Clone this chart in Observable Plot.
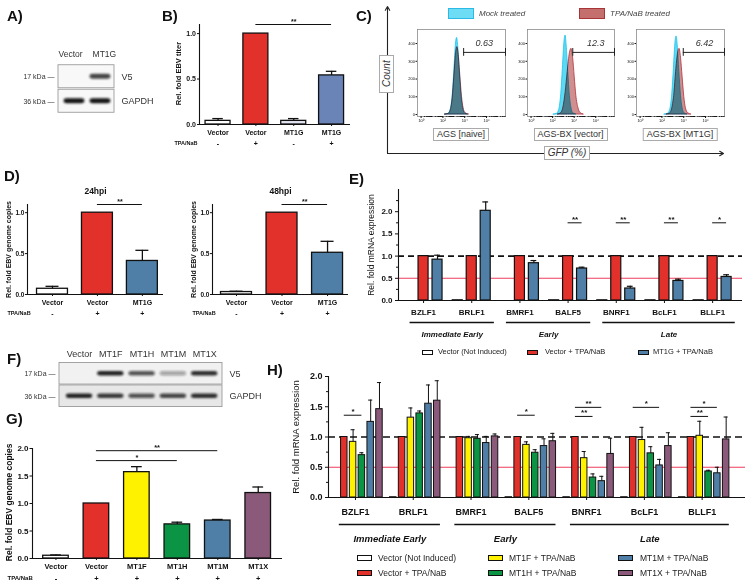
<!DOCTYPE html>
<html>
<head>
<meta charset="utf-8">
<script src="https://cdn.jsdelivr.net/npm/d3@7"></script>
<script src="https://cdn.jsdelivr.net/npm/@observablehq/plot@0.6"></script>
<style>
  html, body { margin: 0; padding: 0; background: #fff; }
  #fig { position: relative; width: 745px; height: 588px; overflow: hidden; font-family: "Liberation Sans", Arial, sans-serif; color: #111; }
  #fig svg { position: absolute; left: 0; top: 0; }
  .abs { position: absolute; white-space: nowrap; }
</style>
</head>
<body>
<div id="fig"></div>
<script>
// ---------------- DATA ----------------
// A) western blot
const blotA_lanes = ["Vector", "MT1G"];
const blotA_rows = ["V5", "GAPDH"];
const blotA_kDa = ["17 kDa", "36 kDa"];
const blotA_V5 = [0, 0.8];
const blotA_GAPDH = [1, 1];

// B) EBV titer
const b_labels = ["Vector", "Vector", "MT1G", "MT1G"];
const b_tpa = ["-", "+", "-", "+"];
const b_values = [0.04, 1.0, 0.04, 0.54];
const b_err = [0.065, null, 0.065, 0.585];
const b_colors = ["#ffffff", "#e2302b", "#e0e2ef", "#6a84b7"];
const b_sigFrom = [1], b_sigTo = [3], b_sigY = [1.1], b_sigText = ["**"];

// C) flow cytometry histograms: [log10 GFP, count]
const c_samples = ["AGS [naive]", "AGS-BX [vector]", "AGS-BX [MT1G]"];
const c_gfp = ["0.63", "12.3", "6.42"];
const c_gateFrom = [3.9, 3.87, 3.96];
const c_gateLabelAt = [5.8, 6.0, 5.9];
const c_legend = ["Mock treated", "TPA/NaB treated"];
const c_mock = [
  [[2.2,0],[2.5,4],[2.7,25],[2.9,110],[3.05,250],[3.2,400],[3.3,432],[3.4,385],[3.55,240],[3.7,105],[3.85,35],[4.0,8],[4.3,0]],
  [[2.1,0],[2.4,4],[2.6,25],[2.8,115],[2.95,260],[3.1,410],[3.2,445],[3.3,390],[3.45,240],[3.6,105],[3.75,35],[3.9,8],[4.2,0]],
  [[2.25,0],[2.55,4],[2.75,25],[2.95,115],[3.1,260],[3.25,410],[3.35,440],[3.45,390],[3.6,240],[3.75,105],[3.9,35],[4.05,8],[4.35,0]]
];
const c_tpa = [
  [[2.2,0],[2.5,3],[2.7,20],[2.9,95],[3.05,215],[3.2,340],[3.32,380],[3.45,335],[3.6,215],[3.75,100],[3.9,35],[4.05,10],[4.4,0]],
  [[2.5,0],[2.8,8],[3.0,40],[3.2,120],[3.4,240],[3.6,345],[3.75,370],[3.9,320],[4.05,210],[4.2,105],[4.4,35],[4.6,8],[4.9,0]],
  [[2.45,0],[2.75,6],[2.95,35],[3.15,120],[3.3,240],[3.48,345],[3.62,370],[3.75,320],[3.9,210],[4.05,100],[4.2,35],[4.4,8],[4.7,0]]
];

// D) EBV genome copies
const d_labels = ["Vector", "Vector", "MT1G"];
const d_tpa = ["-", "+", "+"];
const d_colors = ["#ffffff", "#e2302b", "#4f7fa6"];
const d24_values = [0.07, 1.0, 0.41];
const d24_err = [0.1, null, 0.54];
const d48_values = [0.03, 1.0, 0.51];
const d48_err = [0.04, null, 0.65];

// E) & H) genes
const genes = ["BZLF1", "BRLF1", "BMRF1", "BALF5", "BNRF1", "BcLF1", "BLLF1"];
const geneGroups = ["Immediate Early", "Early", "Late"];
const geneGroupFirst = [0, 2, 4];
const geneGroupLast = [1, 3, 6];

const e_names = ["Vector (Not Induced)", "Vector + TPA/NaB", "MT1G + TPA/NaB"];
const e_colors = ["#ffffff", "#e2302b", "#4f7fa6"];
const e_notInduced = [null, 0.005, null, 0.005, 0.005, 0.005, 0.005];
const e_vector = [1, 1, 1, 1, 1, 1, 1];
const e_mt1g = [0.92, 2.02, 0.84, 0.72, 0.27, 0.44, 0.53];
const e_mt1gErr = [1.02, 2.22, 0.90, 0.75, 0.32, 0.48, 0.58];
const e_sigGene = [3, 4, 5, 6];
const e_sigTarget = [2, 2, 2, 2];
const e_sigY = [1.75, 1.75, 1.75, 1.75];
const e_sigText = ["**", "**", "**", "*"];

// F) western blot
const blotF_lanes = ["Vector", "MT1F", "MT1H", "MT1M", "MT1X"];
const blotF_rows = ["V5", "GAPDH"];
const blotF_kDa = ["17 kDa", "36 kDa"];
const blotF_V5 = [0, 0.95, 0.7, 0.35, 0.9];
const blotF_GAPDH = [0.95, 0.85, 0.7, 0.8, 0.9];

// G) EBV genome copies
const g_labels = ["Vector", "Vector", "MT1F", "MT1H", "MT1M", "MT1X"];
const g_tpa = ["-", "+", "+", "+", "+", "+"];
const g_values = [0.05, 1.0, 1.57, 0.62, 0.69, 1.19];
const g_err = [0.065, null, 1.67, 0.66, 0.71, 1.30];
const g_colors = ["#ffffff", "#e2302b", "#fff200", "#0a9444", "#4f7fa6", "#8b5a7a"];
const g_sigFrom = [1, 1], g_sigTo = [4, 3], g_sigY = [1.96, 1.78], g_sigText = ["**", "*"];

// H) mRNA expression
const h_names = ["Vector (Not Induced)", "Vector + TPA/NaB", "MT1F + TPA/NaB", "MT1H + TPA/NaB", "MT1M + TPA/NaB", "MT1X + TPA/NaB"];
const h_colors = ["#ffffff", "#e2302b", "#fff200", "#0a9444", "#4f7fa6", "#8b5a7a"];
const h_notInduced = [null, 0.005, null, 0.005, 0.005, 0.005, 0.005];
const h_vector = [1, 1, 1, 1, 1, 1, 1];
const h_mt1f = [0.92, 1.32, 0.98, 0.87, 0.65, 0.95, 1.02];
const h_mt1fErr = [1.12, 1.48, 1.01, 0.92, 0.76, 1.16, 1.26];
const h_mt1h = [0.70, 1.39, 0.97, 0.74, 0.33, 0.73, 0.43];
const h_mt1hErr = [0.74, 1.43, 1.04, 0.79, 0.39, 0.84, 0.45];
const h_mt1m = [1.25, 1.55, 0.90, 0.85, 0.27, 0.53, 0.40];
const h_mt1mErr = [1.61, 1.86, 1.01, 0.97, 0.35, 0.63, 0.50];
const h_mt1x = [1.46, 1.60, 1.01, 0.93, 0.72, 0.85, 0.96];
const h_mt1xErr = [1.90, 1.93, 1.05, 1.06, 0.98, 1.07, 1.33];
const h_sigGene = [0, 3, 4, 4, 5, 6, 6];
const h_sigTarget = [3, 3, 4, 3, 4, 4, 3];
const h_sigY = [1.36, 1.36, 1.49, 1.34, 1.49, 1.49, 1.34];
const h_sigText = ["*", "*", "**", "**", "*", "*", "**"];

const panelLetters = ["A)", "B)", "C)", "D)", "E)", "F)", "G)", "H)"];

// ---------------- HELPERS ----------------
const FONT = '"Liberation Sans", Arial, sans-serif';
const W = 745, H = 588;
const fig = document.getElementById("fig");
const box = c => ({width: W, height: H, marginLeft: c.left, marginRight: W - c.right, marginTop: c.top, marginBottom: H - c.bottom});
const css = extra => `font-family:${FONT};background:transparent;overflow:visible;${extra || ""}`;
const add = svg => fig.appendChild(svg);
function div(html, style) {
  const d = document.createElement("div");
  d.className = "abs";
  d.innerHTML = html;
  d.style.cssText += style;
  fig.appendChild(d);
  return d;
}
const sigRows = (from, to, y, text) => from.map((f, i) => ({from: f, to: to[i], y: y[i], text: text[i]}));

function barChart(c) {
  const rows = c.values.map((v, i) => ({i, v, e: c.err[i], fill: c.colors[i], label: c.labels[i], tpa: c.tpa[i]}));
  const withErr = rows.filter(d => d.e != null);
  const xd = c.xDomain;
  const marks = [
    Plot.rect(rows, {x1: d => d.i - c.half, x2: d => d.i + c.half, y1: 0, y2: "v", fill: "fill", stroke: "#111", strokeWidth: 1.3}),
    Plot.ruleX(withErr, {x: "i", y1: "v", y2: "e", stroke: "#111", strokeWidth: 1.3}),
    Plot.ruleY(withErr, {y: "e", x1: d => d.i - c.half * 0.42, x2: d => d.i + c.half * 0.42, stroke: "#111", strokeWidth: 1.3}),
    Plot.ruleX([xd[0]], {y1: 0, y2: c.yMax, stroke: "#111", strokeWidth: 1.1}),
    Plot.ruleY([0], {x1: xd[0], x2: xd[1], stroke: "#111", strokeWidth: 1.1}),
    Plot.axisY({ticks: c.ticks, tickFormat: d3.format(".1f"), tickSize: c.tickSize, tickPadding: c.tickPad, label: null, fontSize: c.tickFs}),
    Plot.axisX({ticks: d3.range(rows.length), tickFormat: () => "", tickSize: 2, label: null}),
    Plot.text(rows, {x: "i", y: 0, dy: c.labelDy, text: "label", fontSize: c.fs}),
    Plot.text(rows, {x: "i", y: 0, dy: c.tpaDy, text: "tpa", fontSize: c.fs}),
    Plot.text(["TPA/NaB"], {x: xd[0], y: 0, dx: c.tpaDx, dy: c.tpaDy, text: d => d, textAnchor: c.tpaAnchor, fontSize: c.tpaFs}),
    Plot.text([c.ylabel], {x: xd[0], y: c.yLabelAt, dx: c.yLabelDx, rotate: -90, text: d => d, fontSize: c.yFs}),
    Plot.ruleY(c.sigs, {y: "y", x1: "from", x2: "to", stroke: "#111", strokeWidth: 1}),
    Plot.text(c.sigs, {x: d => (d.from + d.to) / 2, y: "y", dy: -3, text: "text", fontSize: c.fs})
  ];
  if (c.title) marks.push(Plot.text([c.title], {x: (xd[0] + xd[1]) / 2, y: c.yMax, dy: c.titleDy, text: d => d, fontSize: c.titleFs}));
  add(Plot.plot({...box(c), x: {domain: xd}, y: {domain: [0, c.yMax]}, color: {type: "identity"},
    style: css("font-weight:bold;font-size:7px;"), marks}));
}

function groupedChart(c) {
  const xd = c.xDomain;
  const bars = [];
  c.series.forEach((s, si) => s.values.forEach((v, gi) => {
    if (v != null) bars.push({x: gi + c.offsets[si], v, e: s.errs ? s.errs[gi] : null, fill: s.color});
  }));
  const withErr = bars.filter(d => d.e != null);
  const groups = geneGroups.map((name, i) => ({name, first: geneGroupFirst[i], last: geneGroupLast[i]}));
  const minor = d3.range(0.25, c.yMax, 0.5);
  const marks = [
    Plot.ruleY([0.5], {x1: xd[0], x2: xd[1], stroke: "#ef3d5b", strokeWidth: 1.1}),
    Plot.ruleY([1], {x1: xd[0], x2: xd[1], stroke: "#111", strokeWidth: 1.7, strokeDasharray: c.dash}),
    Plot.rect(bars, {x1: d => d.x - c.half, x2: d => d.x + c.half, y1: 0, y2: "v", fill: "fill", stroke: "#111", strokeWidth: c.sw}),
    Plot.ruleX(withErr, {x: "x", y1: "v", y2: "e", stroke: "#111", strokeWidth: c.sw}),
    Plot.ruleY(withErr, {y: "e", x1: d => d.x - c.cap, x2: d => d.x + c.cap, stroke: "#111", strokeWidth: c.sw}),
    Plot.ruleX([xd[0]], {y1: 0, y2: c.yMax, stroke: "#111", strokeWidth: 1.1}),
    Plot.ruleY([0], {x1: xd[0], x2: xd[1], stroke: "#111", strokeWidth: 1.1}),
    Plot.axisY({ticks: c.ticks, tickFormat: d3.format(".1f"), tickSize: 3, tickPadding: 3, label: null, fontSize: c.tickFs}),
    Plot.axisY({ticks: minor, tickFormat: () => "", tickSize: 2, label: null}),
    Plot.axisX({ticks: d3.range(genes.length), tickFormat: () => "", tickSize: 3, label: null}),
    Plot.text(genes, {x: (d, i) => i, y: 0, dy: c.labelDy, text: d => d, fontSize: c.fs}),
    Plot.ruleY(groups, {y: 0, x1: d => d.first - 0.28, x2: d => d.last + 0.47, dy: c.bracketDy, stroke: "#111", strokeWidth: 1.3}),
    Plot.text(groups, {x: d => (d.first - 0.28 + d.last + 0.47) / 2, y: 0, dy: c.groupDy, text: "name", fontStyle: "italic", fontSize: c.groupFs}),
    Plot.ruleY(c.sigs, {y: "y", x1: d => d.gene + c.offsets[1], x2: d => d.gene + c.offsets[d.target], stroke: "#111", strokeWidth: 1}),
    Plot.text(c.sigs, {x: d => d.gene + (c.offsets[1] + c.offsets[d.target]) / 2, y: "y", dy: -3.5, text: "text", fontSize: c.sigFs}),
    Plot.text([c.ylabel], {x: xd[0], y: c.yMid, dx: c.yLabelDx, rotate: -90, text: d => d, fontSize: c.yFs, fontWeight: "normal"})
  ];
  add(Plot.plot({...box(c), x: {domain: xd}, y: {domain: [0, c.yMax]}, color: {type: "identity"},
    style: css("font-weight:bold;font-size:8px;"), marks}));
}

function legend(names, colors, sx, tx, ys, rowsPer, fs, sw, sh) {
  names.forEach((name, i) => {
    const col = Math.floor(i / rowsPer), row = i % rowsPer;
    const y = ys[row];
    div("", `left:${sx[col]}px;top:${y - sh / 2}px;width:${sw}px;height:${sh}px;background:${colors[i]};border:1.3px solid #111;box-sizing:border-box;`);
    div(name, `left:${tx[col]}px;top:${y}px;transform:translateY(-50%);font-size:${fs}px;line-height:1;color:#222;`);
  });
}

function blot(c) {
  const rows = c.rows.map((name, i) => ({name, kDa: c.kDa[i], i}));
  const bands = [];
  c.intensity.forEach((arr, ri) => arr.forEach((v, li) => { if (v > 0) bands.push({ri, li, v}); }));
  const xd = c.xDomain;
  const n = c.lanes.length;
  const svg = Plot.plot({...box(c), x: {domain: xd, axis: null}, y: {domain: [1.5, -0.5], axis: null},
    opacity: {type: "identity"}, color: {type: "identity"},
    style: css("font-size:9px;"),
    marks: [
      Plot.rect(rows, {x1: xd[0], x2: xd[1], y1: d => d.i - c.rowHalf, y2: d => d.i + c.rowHalf, fill: d => c.bg[d.i], stroke: "#9b9b9b", strokeWidth: 0.9}),
      Plot.rect(bands, {x1: d => d.li - c.bandHalf, x2: d => d.li + c.bandHalf, y1: d => d.ri - c.bandH, y2: d => d.ri + c.bandH, rx: 3, fill: "#151515", fillOpacity: "v"}),
      Plot.text(c.lanes, {x: (d, i) => i + (i - (n - 1) / 2) * c.labelSpread, y: -0.5, dy: c.laneDy, text: d => d, fontSize: c.laneFs, fill: "#333"}),
      Plot.text(rows, {x: xd[1], y: "i", dx: 7, textAnchor: "start", text: "name", fontSize: 9, fill: "#333"}),
      Plot.text(rows, {x: xd[0], y: "i", dx: -4, textAnchor: "end", text: d => d.kDa + " \u2014", fontSize: 7, fill: "#333"})
    ]});
  // soft-edged bands
  const ns = "http://www.w3.org/2000/svg";
  const id = "blur" + Math.random().toString(36).slice(2);
  const defs = document.createElementNS(ns, "defs");
  const f = document.createElementNS(ns, "filter");
  f.setAttribute("id", id); f.setAttribute("x", "-20%"); f.setAttribute("y", "-100%"); f.setAttribute("width", "140%"); f.setAttribute("height", "300%");
  const gb = document.createElementNS(ns, "feGaussianBlur");
  gb.setAttribute("stdDeviation", "0.9");
  f.appendChild(gb); defs.appendChild(f); svg.insertBefore(defs, svg.firstChild);
  const rectGroups = svg.querySelectorAll('g[aria-label="rect"]');
  if (rectGroups[1]) rectGroups[1].setAttribute("filter", `url(#${id})`);
  add(svg);
}

// ---------------- PANEL A ----------------
blot({left: 58, right: 114, top: 64, bottom: 113, xDomain: [-0.615, 1.54],
  lanes: blotA_lanes, rows: blotA_rows, kDa: blotA_kDa, intensity: [blotA_V5, blotA_GAPDH],
  rowHalf: 0.47, bandHalf: 0.4, bandH: 0.1, laneDy: -10, laneFs: 8.5, labelSpread: 0.3, bg: ["#f8f8f8", "#f8f8f8"]});

// ---------------- PANEL B ----------------
barChart({left: 199, right: 350, top: 24, bottom: 124, xDomain: [-0.49, 3.5], yMax: 1.1, ticks: [0, 0.5, 1],
  values: b_values, err: b_err, colors: b_colors, labels: b_labels, tpa: b_tpa, half: 0.33,
  tickSize: 2, tickPad: 1.5, tickFs: 7, fs: 7, labelDy: 8, tpaDy: 19, tpaDx: -2, tpaAnchor: "end", tpaFs: 5.5,
  ylabel: "Rel. fold EBV titer", yLabelAt: 0.56, yLabelDx: -21, yFs: 7.5,
  sigs: sigRows(b_sigFrom, b_sigTo, b_sigY, b_sigText)});

// ---------------- PANEL C ----------------
add(Plot.plot({...box({left: 387, right: 723, top: 6, bottom: 153}), x: {domain: [0, 1], axis: null}, y: {domain: [0, 1], axis: null},
  style: css(), marks: [
    Plot.arrow([{x1: 0, y1: 0, x2: 0, y2: 1}, {x1: 0, y1: 0, x2: 1, y2: 0}], {x1: "x1", y1: "y1", x2: "x2", y2: "y2", headLength: 6, stroke: "#222", strokeWidth: 1.1})
  ]}));
const sup = n => String(n).split("").map(ch => "⁰¹²³⁴⁵⁶⁷⁸⁹"[+ch]).join("");
const cxd = [10 ** -0.33, 10 ** 7.74];
const majorLog = [1, 1e2, 1e4, 1e6];
const minorLog = d3.range(0, 8).flatMap(k => d3.range(1, 10).map(m => m * 10 ** k)).filter(v => v <= cxd[1] && !majorLog.includes(v));
const c_frameX = [[417, 505], [527, 614], [636, 724]];
c_samples.forEach((name, s) => {
  const fx = c_frameX[s];
  add(Plot.plot({...box({left: fx[0], right: fx[1], top: 29, bottom: 116}),
    x: {type: "log", domain: cxd}, y: {domain: [-11, 479]},
    style: css("font-size:4.5px;"), marks: [
      Plot.areaY(c_mock[s], {x: d => 10 ** d[0], y: d => d[1], fill: "#5cd9f3", stroke: "#1fc1ec", strokeWidth: 0.8, curve: "monotone-x"}),
      Plot.areaY(c_tpa[s], {x: d => 10 ** d[0], y: d => d[1], fill: "#aa3232", fillOpacity: 0.55, stroke: "#b3303a", strokeWidth: 0.8, curve: "monotone-x", mixBlendMode: "multiply"}),
      Plot.frame({stroke: "#8a8a8a", strokeWidth: 0.8}),
      Plot.axisY({ticks: [0, 100, 200, 300, 400], tickSize: 1.5, tickPadding: 1, label: null, fontSize: 4}),
      Plot.axisX({ticks: majorLog, tickFormat: d => "10" + sup(Math.round(Math.log10(d))), tickSize: 2, tickPadding: 1, label: null, fontSize: 4}),
      Plot.axisX({ticks: minorLog, tickFormat: () => "", tickSize: 1, label: null}),
      Plot.ruleY([350], {x1: 10 ** c_gateFrom[s], x2: cxd[1], stroke: "#222", strokeWidth: 1}),
      Plot.ruleX([10 ** c_gateFrom[s], cxd[1]], {y1: 328, y2: 372, stroke: "#222", strokeWidth: 1}),
      Plot.text([c_gfp[s]], {x: 10 ** c_gateLabelAt[s], y: 405, text: d => d, fontStyle: "italic", fontSize: 9, fill: "#333"})
    ]}));
  div(name, `left:${(fx[0] + fx[1]) / 2}px;top:128px;transform:translateX(-50%);font-size:9px;line-height:11px;padding:0 3px;border:1px solid #aaa;background:#fff;color:#333;`);
});
div("Count", "left:379px;top:55px;width:15px;height:38px;border:1px solid #aaa;background:#fff;box-sizing:border-box;writing-mode:vertical-rl;transform:rotate(180deg);font-style:italic;font-size:10px;display:flex;align-items:center;justify-content:center;color:#333;");
div("GFP (%)", "left:544px;top:146px;width:46px;height:14px;border:1px solid #aaa;background:#fff;box-sizing:border-box;font-style:italic;font-size:10px;line-height:12px;text-align:center;color:#333;");
// C legend
const c_legendSw = [[448, "#6fdcf5", "#2bb9e5"], [579, "#c46e6e", "#a83535"]];
c_legend.forEach((name, i) => {
  const [x, fill, stroke] = c_legendSw[i];
  div("", `left:${x}px;top:8px;width:26px;height:11px;background:${fill};border:1px solid ${stroke};box-sizing:border-box;`);
  div(name, `left:${x + 31}px;top:14px;transform:translateY(-50%);font-style:italic;font-size:8px;line-height:1;color:#444;`);
});

// ---------------- PANEL D ----------------
barChart({left: 27, right: 163, top: 204, bottom: 294, xDomain: [-0.556, 2.47], yMax: 1.1, ticks: [0, 0.5, 1],
  values: d24_values, err: d24_err, colors: d_colors, labels: d_labels, tpa: d_tpa, half: 0.344,
  tickSize: 2, tickPad: 1, tickFs: 6.5, fs: 7, labelDy: 8, tpaDy: 19, tpaDx: -20, tpaAnchor: "start", tpaFs: 5.5,
  ylabel: "Rel. fold EBV genome copies", yLabelAt: 0.55, yLabelDx: -19, yFs: 7,
  title: "24hpi", titleDy: -13, titleFs: 8.5,
  sigs: sigRows([1], [2], [1.1], ["**"])});
barChart({left: 212, right: 348, top: 204, bottom: 294, xDomain: [-0.527, 2.46], yMax: 1.1, ticks: [0, 0.5, 1],
  values: d48_values, err: d48_err, colors: d_colors, labels: d_labels, tpa: d_tpa, half: 0.34,
  tickSize: 2, tickPad: 1, tickFs: 6.5, fs: 7, labelDy: 8, tpaDy: 19, tpaDx: -20, tpaAnchor: "start", tpaFs: 5.5,
  ylabel: "Rel. fold EBV genome copies", yLabelAt: 0.55, yLabelDx: -18.5, yFs: 7,
  title: "48hpi", titleDy: -13, titleFs: 8.5,
  sigs: sigRows([1], [2], [1.1], ["**"])});

// ---------------- PANEL E ----------------
groupedChart({left: 398, right: 742, top: 189, bottom: 300, xDomain: [-0.52, 6.62], yMax: 2.5, ticks: [0, 0.5, 1, 1.5, 2],
  series: [
    {values: e_notInduced, color: e_colors[0]},
    {values: e_vector, color: e_colors[1]},
    {values: e_mt1g, errs: e_mt1gErr, color: e_colors[2]}
  ],
  offsets: [-0.29, 0, 0.29], half: 0.104, cap: 0.06, sw: 1.2, dash: "6,4",
  labelDy: 12, bracketDy: 22, groupDy: 34, fs: 8, groupFs: 8, tickFs: 8, sigFs: 8,
  ylabel: "Rel. fold mRNA expression", yMid: 1.25, yLabelDx: -27, yFs: 8.5,
  sigs: e_sigGene.map((g, i) => ({gene: g, target: e_sigTarget[i], y: e_sigY[i], text: e_sigText[i]}))});
legend(e_names, e_colors, [422, 527, 638], [438, 545, 653], [352], 1, 7.5, 11, 5);

// ---------------- PANEL F ----------------
blot({left: 59, right: 222, top: 362, bottom: 407, xDomain: [-0.64, 4.57],
  lanes: blotF_lanes, rows: blotF_rows, kDa: blotF_kDa, intensity: [blotF_V5, blotF_GAPDH],
  rowHalf: 0.48, bandHalf: 0.42, bandH: 0.1, laneDy: -8, laneFs: 9, labelSpread: 0, bg: ["#f1f1f1", "#e7e7e7"]});

// ---------------- PANEL G ----------------
barChart({left: 32, right: 282, top: 448, bottom: 558, xDomain: [-0.58, 5.6], yMax: 2, ticks: [0, 0.5, 1, 1.5, 2],
  values: g_values, err: g_err, colors: g_colors, labels: g_labels, tpa: g_tpa, half: 0.316,
  tickSize: 2.5, tickPad: 1.5, tickFs: 8, fs: 7.5, labelDy: 8, tpaDy: 20, tpaDx: -25, tpaAnchor: "start", tpaFs: 6,
  ylabel: "Rel. fold EBV genome copies", yLabelAt: 1.02, yLabelDx: -23, yFs: 8.5,
  sigs: sigRows(g_sigFrom, g_sigTo, g_sigY, g_sigText)});

// ---------------- PANEL H ----------------
const hOff = [-20, -11.2, -2.4, 6.4, 15.2, 24].map(p => p / 57.8);
groupedChart({left: 328, right: 745, top: 376, bottom: 497, xDomain: [-0.467, 6.75], yMax: 2, ticks: [0, 0.5, 1, 1.5, 2],
  series: [
    {values: h_notInduced, color: h_colors[0]},
    {values: h_vector, color: h_colors[1]},
    {values: h_mt1f, errs: h_mt1fErr, color: h_colors[2]},
    {values: h_mt1h, errs: h_mt1hErr, color: h_colors[3]},
    {values: h_mt1m, errs: h_mt1mErr, color: h_colors[4]},
    {values: h_mt1x, errs: h_mt1xErr, color: h_colors[5]}
  ],
  offsets: hOff, half: 0.056, cap: 0.035, sw: 1.0, dash: "7,4",
  labelDy: 15, bracketDy: 27, groupDy: 41, fs: 9, groupFs: 9.5, tickFs: 9, sigFs: 8,
  ylabel: "Rel. fold mRNA expression", yMid: 1.0, yLabelDx: -33, yFs: 9.5,
  sigs: h_sigGene.map((g, i) => ({gene: g, target: h_sigTarget[i], y: h_sigY[i], text: h_sigText[i]}))});
legend(h_names, h_colors, [357, 488, 618], [378, 509, 640], [558, 573], 2, 8.5, 15, 6);

// ---------------- PANEL LETTERS ----------------
const letterXY = [[7, 8], [162, 8], [356, 8], [4, 168], [349, 171], [7, 351], [6, 411], [267, 362]];
panelLetters.forEach((t, i) => div(t, `left:${letterXY[i][0]}px;top:${letterXY[i][1]}px;font-weight:bold;font-size:15px;line-height:1;`));
</script>
</body>
</html>
